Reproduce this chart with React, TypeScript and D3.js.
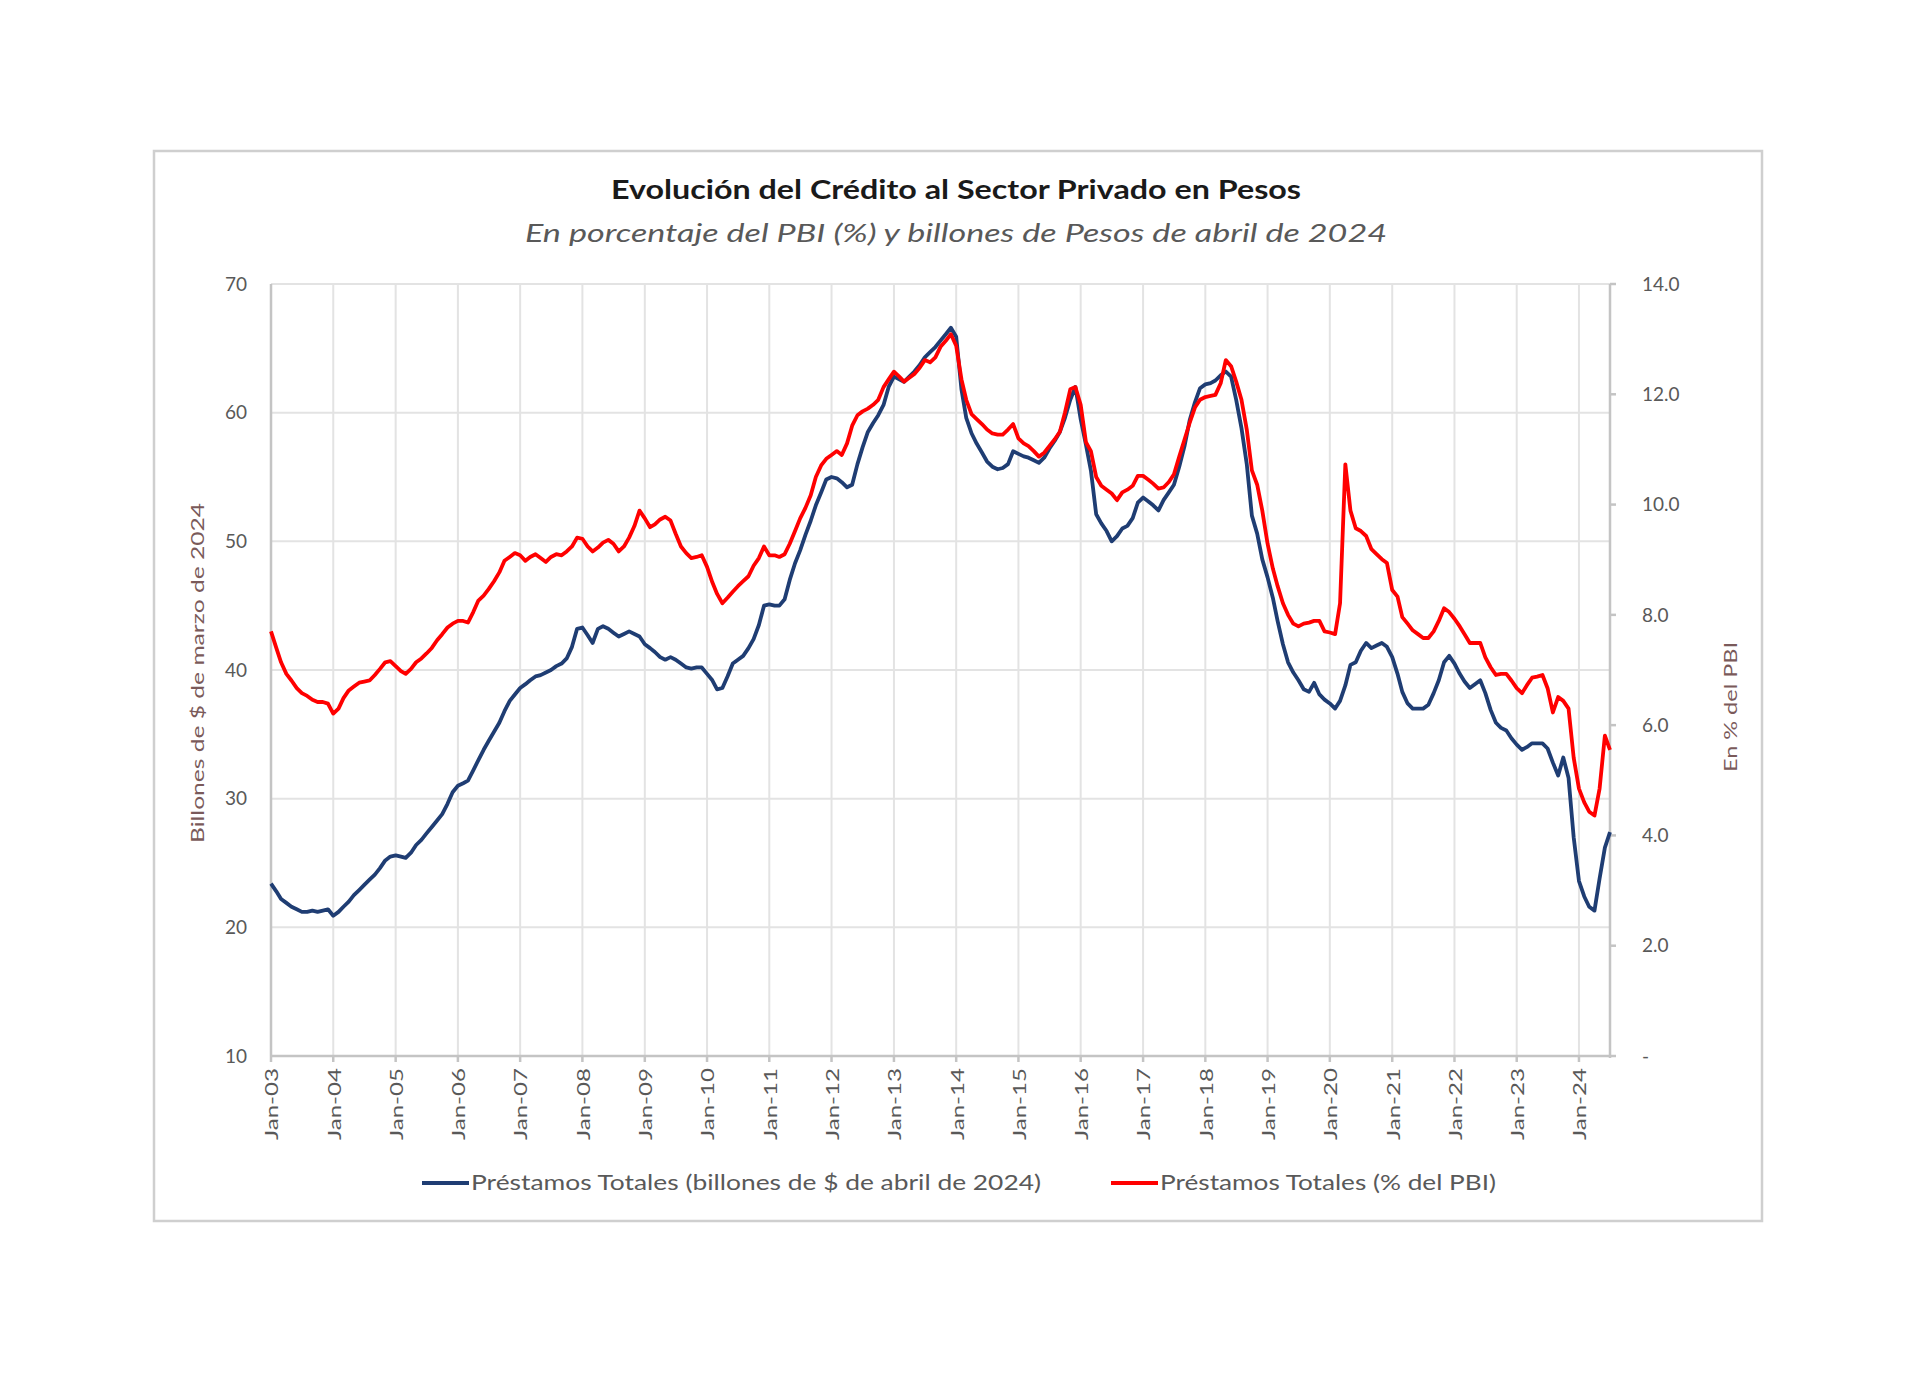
import React from "react";
import * as d3 from "d3";

const titleText = "Evolución del Crédito al Sector Privado en Pesos";
const subtitleText = "En porcentaje del PBI (%) y billones de Pesos de abril de 2024";
const leftAxisTitle = "Billones de $ de marzo de 2024";
const rightAxisTitle = "En % del PBI";
const blueName = "Préstamos Totales (billones de $ de abril de 2024)";
const redName = "Préstamos Totales (% del PBI)";

const startYear = 2003;
const startMonth = 0;

const xTickLabels = [
  "Jan-03", "Jan-04", "Jan-05", "Jan-06", "Jan-07", "Jan-08", "Jan-09", "Jan-10",
  "Jan-11", "Jan-12", "Jan-13", "Jan-14", "Jan-15", "Jan-16", "Jan-17", "Jan-18",
  "Jan-19", "Jan-20", "Jan-21", "Jan-22", "Jan-23", "Jan-24",
];
const leftTicks = [10, 20, 30, 40, 50, 60, 70];
const rightTicks = [0, 2, 4, 6, 8, 10, 12, 14];

// Préstamos totales, billones de $ (monthly, Jan-03 .. Jul-24)
const blueValues = [
  23.4, 22.8, 22.2, 21.9, 21.6, 21.4, 21.2, 21.2, 21.3, 21.2, 21.3, 21.4,
  20.9, 21.2, 21.6, 22.0, 22.5, 22.9, 23.3, 23.7, 24.1, 24.6, 25.2, 25.5,
  25.6, 25.5, 25.4, 25.8, 26.4, 26.8, 27.3, 27.8, 28.3, 28.8, 29.6, 30.5,
  31.0, 31.2, 31.4, 32.2, 33.0, 33.8, 34.5, 35.2, 35.9, 36.8, 37.6, 38.1,
  38.6, 38.9, 39.2, 39.5, 39.6, 39.8, 40.0, 40.3, 40.5, 40.9, 41.8, 43.2,
  43.3, 42.7, 42.1, 43.2, 43.4, 43.2, 42.9, 42.6, 42.8, 43.0, 42.8, 42.6,
  42.0, 41.7, 41.4, 41.0, 40.8, 41.0, 40.8, 40.5, 40.2, 40.1, 40.2, 40.2,
  39.7, 39.2, 38.5, 38.6, 39.5, 40.5, 40.8, 41.1, 41.7, 42.4, 43.5, 45.0,
  45.1, 45.0, 45.0, 45.5, 47.0, 48.3, 49.3, 50.5, 51.6, 52.8, 53.8, 54.8,
  55.0, 54.9, 54.6, 54.2, 54.4, 56.0, 57.3, 58.5, 59.2, 59.8, 60.6, 62.0,
  62.8, 62.6, 62.4, 62.8, 63.2, 63.7, 64.3, 64.7, 65.1, 65.6, 66.1, 66.6,
  65.9, 61.8, 59.6, 58.4, 57.6, 56.9, 56.2, 55.8, 55.6, 55.7, 56.0, 57.0,
  56.8, 56.6, 56.5, 56.3, 56.1, 56.5, 57.2, 57.8, 58.5, 59.6, 61.0, 62.0,
  59.5, 57.5, 55.5, 52.1, 51.4, 50.8, 50.0, 50.4, 51.0, 51.2, 51.8, 53.0,
  53.4, 53.1, 52.8, 52.4, 53.2, 53.8, 54.4, 55.8, 57.4, 59.4, 60.8, 61.9,
  62.2, 62.3, 62.5, 62.9, 63.2, 62.8, 61.0, 58.8, 56.0, 52.0, 50.6, 48.6,
  47.2, 45.6, 43.8, 42.0, 40.6, 39.8, 39.2, 38.5, 38.3, 39.0, 38.1, 37.7,
  37.4, 37.0, 37.6, 38.8, 40.4, 40.6, 41.5, 42.1, 41.7, 41.9, 42.1, 41.8,
  41.0, 39.7, 38.3, 37.4, 37.0, 37.0, 37.0, 37.3, 38.2, 39.2, 40.6, 41.1,
  40.5, 39.7, 39.1, 38.6, 38.9, 39.2, 38.2, 36.9, 35.9, 35.5, 35.3, 34.7,
  34.2, 33.8, 34.0, 34.3, 34.3, 34.3, 33.9, 32.8, 31.8, 33.2, 31.6, 27.0,
  23.6, 22.4, 21.6, 21.3, 23.8, 26.2, 27.4,
];

// Préstamos totales, % del PBI (monthly, Jan-03 .. Jul-24)
const redValues = [
  7.70, 7.40, 7.14, 6.93, 6.81, 6.67, 6.58, 6.53, 6.46, 6.42, 6.42, 6.39,
  6.21, 6.30, 6.49, 6.63, 6.70, 6.77, 6.79, 6.81, 6.91, 7.02, 7.14, 7.16,
  7.07, 6.98, 6.93, 7.02, 7.14, 7.21, 7.30, 7.40, 7.54, 7.65, 7.77, 7.84,
  7.89, 7.89, 7.86, 8.05, 8.26, 8.35, 8.47, 8.61, 8.77, 8.98, 9.05, 9.12,
  9.08, 8.98, 9.05, 9.10, 9.03, 8.96, 9.05, 9.10, 9.08, 9.15, 9.24, 9.40,
  9.38, 9.24, 9.15, 9.22, 9.31, 9.36, 9.29, 9.15, 9.24, 9.40, 9.61, 9.89,
  9.75, 9.59, 9.64, 9.73, 9.78, 9.71, 9.47, 9.24, 9.12, 9.03, 9.05, 9.08,
  8.87, 8.59, 8.38, 8.21, 8.31, 8.42, 8.52, 8.61, 8.70, 8.89, 9.03, 9.24,
  9.08, 9.08, 9.05, 9.10, 9.29, 9.52, 9.75, 9.94, 10.17, 10.50, 10.71, 10.83,
  10.90, 10.97, 10.90, 11.11, 11.43, 11.62, 11.69, 11.74, 11.81, 11.90, 12.13, 12.27,
  12.41, 12.32, 12.23, 12.30, 12.37, 12.48, 12.62, 12.58, 12.67, 12.86, 12.97, 13.09,
  12.88, 12.27, 11.90, 11.64, 11.55, 11.46, 11.36, 11.29, 11.27, 11.27, 11.36, 11.46,
  11.20, 11.11, 11.06, 10.97, 10.87, 10.94, 11.06, 11.18, 11.32, 11.67, 12.09, 12.13,
  11.81, 11.13, 10.97, 10.50, 10.34, 10.27, 10.20, 10.08, 10.22, 10.27, 10.34, 10.52,
  10.52, 10.45, 10.38, 10.29, 10.31, 10.41, 10.55, 10.87, 11.18, 11.48, 11.76, 11.90,
  11.95, 11.97, 11.99, 12.20, 12.62, 12.51, 12.23, 11.90, 11.36, 10.62, 10.36, 9.89,
  9.29, 8.84, 8.52, 8.21, 8.00, 7.84, 7.79, 7.84, 7.86, 7.89, 7.89, 7.70,
  7.68, 7.65, 8.21, 10.73, 9.89, 9.57, 9.52, 9.43, 9.19, 9.10, 9.01, 8.94,
  8.45, 8.33, 7.96, 7.84, 7.72, 7.65, 7.58, 7.58, 7.70, 7.89, 8.12, 8.05,
  7.93, 7.79, 7.65, 7.49, 7.49, 7.49, 7.23, 7.05, 6.91, 6.93, 6.93, 6.81,
  6.67, 6.58, 6.72, 6.86, 6.88, 6.91, 6.67, 6.23, 6.51, 6.44, 6.30, 5.41,
  4.85, 4.60, 4.43, 4.36, 4.85, 5.81, 5.55,
];

const W = 1920;
const H = 1378;
const plot = { left: 271, right: 1610, top: 284, bottom: 1056 };
const FONT = "Lato, 'Open Sans', sans-serif";
const BLUE = "#1f3d73";
const RED = "#ff0000";

export default function App() {
  const n = blueValues.length;
  const months = d3.range(n).map((i) => new Date(startYear, startMonth + i, 1));
  const x = d3
    .scaleTime()
    .domain([months[0], months[n - 1]])
    .range([plot.left, plot.right]);
  const yL = d3.scaleLinear().domain([10, 70]).range([plot.bottom, plot.top]);
  const yR = d3.scaleLinear().domain([0, 14]).range([plot.bottom, plot.top]);

  const tickDates = xTickLabels.map((_, i) => new Date(startYear + i, 0, 1));

  const blueLine = d3
    .line<number>()
    .x((_, i) => x(months[i]))
    .y((d) => yL(d))
    .curve(d3.curveLinear);
  const redLine = d3
    .line<number>()
    .x((_, i) => x(months[i]))
    .y((d) => yR(d))
    .curve(d3.curveLinear);

  const fmtR = (v: number) => (v === 0 ? "-" : v.toFixed(1));

  return (
    <svg
      width={W}
      height={H}
      style={{ position: "absolute", left: 0, top: 0, background: "#fff" }}
      fontFamily={FONT}
    >
      <rect x={0} y={0} width={W} height={H} fill="#fff" />
      <rect x={154} y={151} width={1608} height={1070} fill="#fff" stroke="#cfcfcf" strokeWidth={2.5} />

      {/* title */}
      <text x={956} y={199} textAnchor="middle" fontSize={26} fontWeight={700} fill="#1a1a1a"
        textLength={690} lengthAdjust="spacingAndGlyphs">{titleText}</text>
      <text x={956} y={242} textAnchor="middle" fontSize={25} fontStyle="italic" fill="#595959"
        textLength={862} lengthAdjust="spacingAndGlyphs">{subtitleText}</text>

      {/* gridlines */}
      <g stroke="#e3e3e3" strokeWidth={2}>
        {leftTicks.filter((t) => t > 10).map((t) => (
          <line key={"h" + t} x1={plot.left} x2={plot.right} y1={yL(t)} y2={yL(t)} />
        ))}
        {tickDates.slice(1).map((d, i) => (
          <line key={"v" + i} x1={x(d)} x2={x(d)} y1={plot.top} y2={plot.bottom} />
        ))}
      </g>

      {/* axes */}
      <g stroke="#c4c4c4" strokeWidth={2.5}>
        <line x1={plot.left} x2={plot.left} y1={plot.top} y2={plot.bottom} />
        <line x1={plot.right} x2={plot.right} y1={plot.top} y2={plot.bottom + 2} />
        <line x1={plot.left} x2={plot.right} y1={plot.bottom} y2={plot.bottom} />
        {rightTicks.map((t) => (
          <line key={"rt" + t} x1={plot.right} x2={plot.right + 6} y1={yR(t)} y2={yR(t)} />
        ))}
        {tickDates.map((d, i) => (
          <line key={"xt" + i} x1={x(d)} x2={x(d)} y1={plot.bottom} y2={plot.bottom + 6} />
        ))}
      </g>

      {/* left tick labels */}
      {leftTicks.map((t) => (
        <text key={"lt" + t} x={247} y={yL(t)} dy="0.35em" textAnchor="end" fontSize={19} fill="#595959">
          {t}
        </text>
      ))}
      {/* right tick labels */}
      {rightTicks.map((t) => (
        <text key={"rl" + t} x={1642} y={yR(t)} dy="0.35em" textAnchor="start" fontSize={19} fill="#595959">
          {fmtR(t)}
        </text>
      ))}
      {/* x tick labels */}
      {tickDates.map((d, i) => (
        <text
          key={"xl" + i}
          transform={`translate(${x(d) + 1},${plot.bottom + 12}) rotate(-90)`}
          textAnchor="end"
          dy="0.35em"
          fontSize={18}
          fill="#595959"
          textLength={72}
          lengthAdjust="spacingAndGlyphs"
        >
          {xTickLabels[i]}
        </text>
      ))}

      {/* axis titles */}
      <text transform="translate(198,673) rotate(-90)" textAnchor="middle" dy="0.35em" fontSize={18}
        fill="#7a5a5a" textLength={340} lengthAdjust="spacingAndGlyphs">{leftAxisTitle}</text>
      <text transform="translate(1731,707) rotate(-90)" textAnchor="middle" dy="0.35em" fontSize={18}
        fill="#7a5a5a" textLength={130} lengthAdjust="spacingAndGlyphs">{rightAxisTitle}</text>

      {/* series */}
      <path d={blueLine(blueValues) || ""} fill="none" stroke={BLUE} strokeWidth={3.8} strokeLinejoin="round" />
      <path d={redLine(redValues) || ""} fill="none" stroke={RED} strokeWidth={3.8} strokeLinejoin="round" />

      {/* legend */}
      <line x1={422} x2={469} y1={1183} y2={1183} stroke={BLUE} strokeWidth={4} />
      <text x={471} y={1183} dy="0.35em" fontSize={21} fill="#595959" textLength={570}
        lengthAdjust="spacingAndGlyphs">{blueName}</text>
      <line x1={1111} x2={1158} y1={1183} y2={1183} stroke={RED} strokeWidth={4} />
      <text x={1160} y={1183} dy="0.35em" fontSize={21} fill="#595959" textLength={336}
        lengthAdjust="spacingAndGlyphs">{redName}</text>
    </svg>
  );
}
